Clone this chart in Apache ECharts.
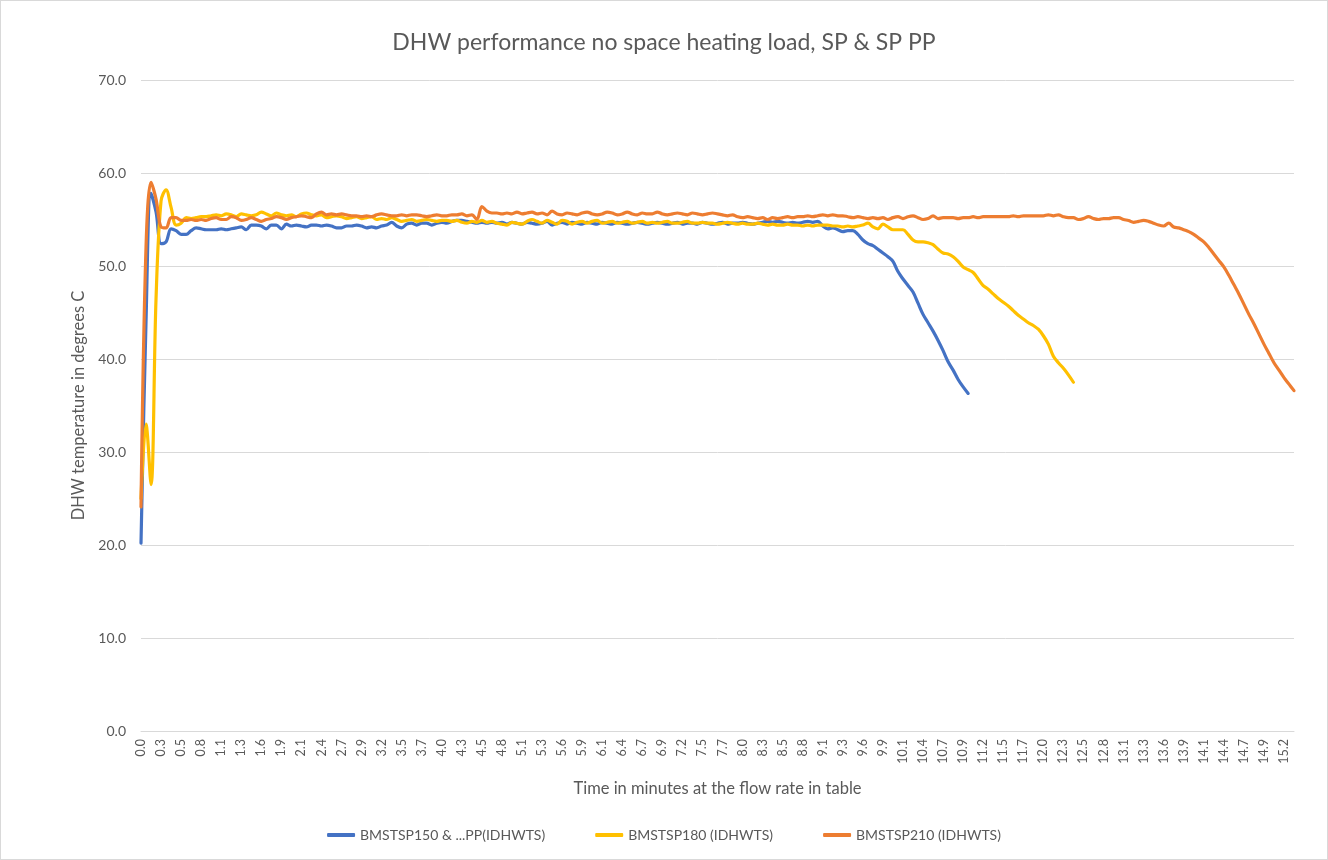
<!DOCTYPE html>
<html><head><meta charset="utf-8">
<script src="https://cdn.jsdelivr.net/npm/echarts@6/dist/echarts.min.js"></script>
<style>html,body{margin:0;padding:0;background:#fff}#c{width:1328px;height:860px;box-sizing:border-box;border:1px solid #d9d9d9}</style>
</head><body><div id="c"></div>
<script>
// Time (minutes) at each 4-second sample
const timeLabels = [
"0.0","0.1","0.1","0.2","0.3","0.3","0.4","0.5","0.5","0.6","0.7","0.7","0.8","0.9","0.9",
"1.0","1.1","1.1","1.2","1.3","1.3","1.4","1.5","1.5","1.6","1.7","1.7","1.8","1.9","1.9",
"2.0","2.1","2.1","2.2","2.3","2.3","2.4","2.5","2.5","2.6","2.7","2.7","2.8","2.9","2.9",
"3.0","3.1","3.1","3.2","3.3","3.3","3.4","3.5","3.5","3.6","3.7","3.7","3.8","3.9","3.9",
"4.0","4.1","4.1","4.2","4.3","4.3","4.4","4.5","4.5","4.6","4.7","4.7","4.8","4.9","4.9",
"5.0","5.1","5.1","5.2","5.3","5.3","5.4","5.5","5.5","5.6","5.7","5.7","5.8","5.9","5.9",
"6.0","6.1","6.1","6.2","6.3","6.3","6.4","6.5","6.5","6.6","6.7","6.7","6.8","6.9","6.9",
"7.0","7.1","7.1","7.2","7.3","7.3","7.4","7.5","7.5","7.6","7.7","7.7","7.8","7.9","7.9",
"8.0","8.1","8.1","8.2","8.3","8.3","8.4","8.5","8.5","8.6","8.7","8.7","8.8","8.9","8.9",
"9.0","9.1","9.1","9.2","9.3","9.3","9.4","9.5","9.5","9.6","9.7","9.7","9.8","9.9","9.9",
"10.0","10.1","10.1","10.2","10.3","10.3","10.4","10.5","10.5","10.6","10.7","10.7","10.8","10.9","10.9",
"11.0","11.1","11.1","11.2","11.3","11.3","11.4","11.5","11.5","11.6","11.7","11.7","11.8","11.9","11.9",
"12.0","12.1","12.1","12.2","12.3","12.3","12.4","12.5","12.5","12.6","12.7","12.7","12.8","12.9","12.9",
"13.0","13.1","13.1","13.2","13.3","13.3","13.4","13.5","13.5","13.6","13.7","13.7","13.8","13.9","13.9",
"14.0","14.1","14.1","14.2","14.3","14.3","14.4","14.5","14.5","14.6","14.7","14.7","14.8","14.9","14.9",
"15.0","15.1","15.1","15.2","15.3","15.3"
];

const seriesNames = ["BMSTSP150 & ...PP(IDHWTS)", "BMSTSP180 (IDHWTS)", "BMSTSP210 (IDHWTS)"];

const sp150 = [
20.2,44.0,57.8,55.8,52.4,52.6,54.0,53.8,53.4,53.4,
53.8,54.1,54.0,53.9,53.9,53.9,54.0,53.9,54.0,54.1,
54.2,53.9,54.4,54.4,54.3,54.0,54.4,54.4,54.0,54.5,
54.3,54.4,54.3,54.2,54.4,54.4,54.3,54.4,54.3,54.1,
54.1,54.3,54.3,54.4,54.3,54.1,54.2,54.1,54.3,54.4,
54.7,54.3,54.1,54.5,54.6,54.4,54.6,54.6,54.4,54.6,
54.7,54.6,54.8,54.9,54.9,54.8,54.7,54.6,54.7,54.6,
54.7,54.6,54.7,54.5,54.7,54.6,54.5,54.7,54.6,54.5,
54.6,54.8,54.4,54.6,54.7,54.5,54.7,54.6,54.5,54.7,
54.6,54.5,54.7,54.6,54.5,54.7,54.6,54.5,54.6,54.7,
54.6,54.5,54.6,54.7,54.6,54.5,54.6,54.7,54.5,54.6,
54.6,54.5,54.7,54.6,54.5,54.6,54.7,54.5,54.6,54.6,
54.7,54.6,54.5,54.6,54.7,54.8,54.7,54.8,54.7,54.6,
54.7,54.6,54.7,54.8,54.7,54.8,54.3,54.0,54.1,53.9,
53.7,53.8,53.8,53.4,52.8,52.4,52.2,51.8,51.4,51.0,
50.5,49.4,48.6,47.9,47.2,46.0,44.8,43.9,43.0,42.0,
40.9,39.7,38.8,37.8,37.0,36.3
];

const sp180 = [
25.0,33.0,26.5,46.5,57.0,58.2,56.3,54.4,54.6,55.2,
55.1,55.2,55.3,55.3,55.4,55.5,55.4,55.6,55.5,55.3,
55.6,55.5,55.4,55.5,55.8,55.6,55.4,55.7,55.5,55.4,
55.5,55.3,55.6,55.7,55.5,55.4,55.5,55.2,55.3,55.4,
55.3,55.1,55.2,55.3,55.1,55.2,55.3,55.0,55.1,55.0,
55.2,55.0,54.8,54.9,55.0,54.8,54.9,55.0,54.9,54.8,
54.9,54.9,54.8,54.9,54.7,54.6,54.8,54.7,54.9,54.7,
54.8,54.6,54.5,54.4,54.7,54.6,54.5,54.8,55.0,54.8,
54.6,54.9,54.7,54.5,54.9,54.8,54.5,54.7,54.8,54.6,
54.8,54.9,54.6,54.7,54.8,54.6,54.7,54.8,54.6,54.7,
54.8,54.6,54.7,54.6,54.7,54.8,54.6,54.6,54.7,54.8,
54.6,54.6,54.7,54.6,54.6,54.5,54.6,54.7,54.6,54.5,
54.6,54.5,54.5,54.6,54.5,54.4,54.5,54.4,54.4,54.5,
54.4,54.4,54.3,54.4,54.3,54.4,54.4,54.4,54.3,54.3,
54.2,54.3,54.2,54.3,54.4,54.6,54.2,54.0,54.5,54.2,
53.9,53.9,53.9,53.4,52.8,52.6,52.6,52.5,52.3,51.8,
51.4,51.3,51.0,50.5,49.9,49.6,49.3,48.6,47.9,47.5,
47.0,46.5,46.1,45.7,45.2,44.7,44.3,43.9,43.6,43.2,
42.5,41.6,40.3,39.6,39.0,38.3,37.5
];

const sp210 = [
24.1,52.0,59.0,57.2,54.2,54.1,55.2,55.2,54.9,54.9,
55.0,54.9,55.0,54.9,55.1,55.2,55.0,55.0,55.3,55.2,
54.9,55.0,55.2,55.0,54.8,55.0,55.1,55.3,55.2,55.0,
55.2,55.3,55.4,55.3,55.2,55.6,55.8,55.5,55.6,55.5,
55.6,55.5,55.4,55.4,55.3,55.4,55.3,55.5,55.6,55.5,
55.4,55.4,55.5,55.4,55.5,55.5,55.4,55.3,55.4,55.5,
55.4,55.4,55.5,55.5,55.6,55.4,55.5,55.0,56.4,55.9,
55.7,55.7,55.6,55.7,55.6,55.8,55.6,55.7,55.8,55.6,
55.7,55.5,55.9,55.6,55.5,55.7,55.6,55.5,55.7,55.8,
55.6,55.5,55.6,55.8,55.7,55.5,55.6,55.8,55.6,55.5,
55.7,55.6,55.6,55.8,55.6,55.5,55.6,55.7,55.6,55.5,
55.7,55.6,55.5,55.6,55.7,55.6,55.5,55.4,55.5,55.3,
55.2,55.3,55.2,55.1,55.2,55.0,55.2,55.1,55.2,55.3,
55.2,55.3,55.3,55.4,55.3,55.4,55.5,55.4,55.5,55.4,
55.4,55.3,55.2,55.3,55.2,55.1,55.2,55.1,55.2,55.0,
55.2,55.3,55.1,55.3,55.4,55.2,55.0,55.1,55.4,55.1,
55.2,55.2,55.2,55.1,55.2,55.2,55.3,55.2,55.3,55.3,
55.3,55.3,55.3,55.3,55.4,55.3,55.4,55.4,55.4,55.4,
55.4,55.5,55.4,55.5,55.3,55.2,55.2,55.0,55.1,55.3,
55.1,55.0,55.1,55.1,55.2,55.2,55.0,54.9,54.7,54.8,
54.9,54.8,54.6,54.4,54.3,54.6,54.2,54.1,53.9,53.7,
53.4,53.0,52.6,52.0,51.3,50.6,49.9,49.0,48.0,47.0,
45.9,44.8,43.8,42.7,41.6,40.6,39.6,38.8,38.0,37.3,
36.6
];

const colors = ["#4472C4", "#FFC000", "#ED7D31"];
const font = "Lato, 'Open Sans', sans-serif";
const txt = "#595959";

const chart = echarts.init(document.getElementById('c'));
const mk = (name, data, color) => ({
  name, type: 'line', data, smooth: 0.35, showSymbol: false, symbol: 'none',
  lineStyle: { width: 3.2, color, cap: 'round', join: 'round' }, itemStyle: { color }
});
chart.setOption({
  animation: false,
  title: {
    text: 'DHW performance no space heating load, SP & SP PP', left: 'center', top: 25,
    textStyle: { fontFamily: font, fontSize: 23, fontWeight: 'normal', color: txt }
  },
  grid: { left: 140, right: 33, top: 79, bottom: 128 },
  xAxis: {
    type: 'category', data: timeLabels, boundaryGap: false,
    axisLabel: { interval: 3, rotate: 90, fontSize: 12.5, color: txt, fontFamily: font, margin: 8 },
    axisTick: { show: false },
    axisLine: { lineStyle: { color: '#d9d9d9', width: 1 } },
    name: 'Time in minutes at the flow rate in table', nameLocation: 'middle', nameGap: 49,
    nameTextStyle: { fontFamily: font, fontSize: 16.5, color: txt }
  },
  yAxis: {
    type: 'value', min: 0, max: 70, interval: 10,
    axisLabel: { formatter: v => v.toFixed(1), fontSize: 14, color: txt, fontFamily: font, margin: 15 },
    axisLine: { show: false }, axisTick: { show: false },
    splitLine: { lineStyle: { color: '#d9d9d9', width: 1 } },
    name: 'DHW temperature in degrees C', nameLocation: 'middle', nameGap: 54,
    nameTextStyle: { fontFamily: font, fontSize: 16.5, color: txt }
  },
  legend: {
    bottom: 12, left: 'center', itemWidth: 28, itemHeight: 4, itemGap: 50, icon: 'roundRect',
    textStyle: { fontFamily: font, fontSize: 14, color: txt }
  },
  series: [mk(seriesNames[0], sp150, colors[0]), mk(seriesNames[1], sp180, colors[1]), mk(seriesNames[2], sp210, colors[2])]
});
</script></body></html>
